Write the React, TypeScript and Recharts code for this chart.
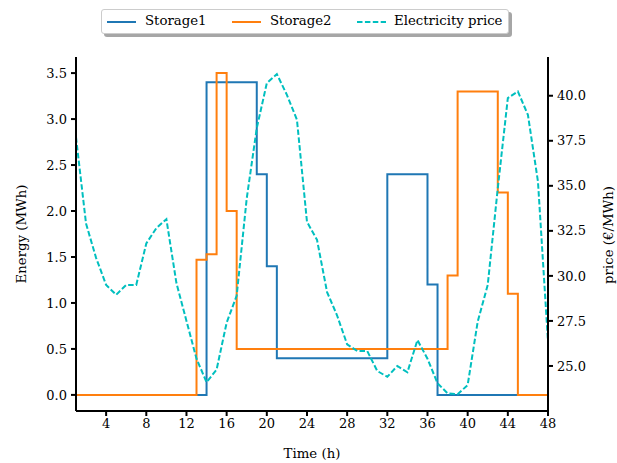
import React from 'react';
import { ComposedChart, Line, XAxis, YAxis } from 'recharts';

const hours = [
  1, 2, 3, 4, 5, 6, 7, 8, 9, 10, 11, 12, 13, 14, 15, 16, 17, 18, 19, 20, 21, 22, 23, 24,
  25, 26, 27, 28, 29, 30, 31, 32, 33, 34, 35, 36, 37, 38, 39, 40, 41, 42, 43, 44, 45, 46, 47, 48,
];

const storage1 = [
  0, 0, 0, 0, 0, 0, 0, 0, 0, 0, 0, 0, 0, 3.4, 3.4, 3.4, 3.4, 3.4, 2.4, 1.4, 0.4, 0.4, 0.4, 0.4,
  0.4, 0.4, 0.4, 0.4, 0.4, 0.4, 0.4, 2.4, 2.4, 2.4, 2.4, 1.2, 0, 0, 0, 0, 0, 0, 0, 0, 0, 0, 0, 0,
];

const storage2 = [
  0, 0, 0, 0, 0, 0, 0, 0, 0, 0, 0, 0, 1.47, 1.53, 3.5, 2.0, 0.5, 0.5, 0.5, 0.5, 0.5, 0.5, 0.5, 0.5,
  0.5, 0.5, 0.5, 0.5, 0.5, 0.5, 0.5, 0.5, 0.5, 0.5, 0.5, 0.5, 0.5, 1.3, 3.3, 3.3, 3.3, 3.3, 2.2, 1.1, 0, 0, 0, 0,
];

const price = [
  37.7, 32.9, 31.0, 29.5, 28.95, 29.5, 29.5, 31.8, 32.65, 33.15, 29.6, 27.5, 25.4, 24.1, 24.8, 27.4,
  28.9, 34.3, 38.2, 40.7, 41.2, 40.05, 38.67, 33.0, 32.0, 29.1, 27.8, 26.2, 25.83, 25.83, 24.72, 24.4,
  25.0, 24.65, 26.44, 25.4, 24.04, 23.48, 23.43, 23.94, 27.46, 29.5, 34.87, 39.87, 40.24, 38.94, 35.24, 26.35,
];

const xTicks = [4, 8, 12, 16, 20, 24, 28, 32, 36, 40, 44, 48];
const energyTicks = [0, 0.5, 1.0, 1.5, 2.0, 2.5, 3.0, 3.5];
const priceTicks = [25, 27.5, 30, 32.5, 35, 37.5, 40];

const data = hours.map((h, i) => ({
  h,
  storage1: storage1[i],
  storage2: storage2[i],
  price: price[i],
}));

const FONT = 'DejaVu Serif, "Liberation Serif", serif';
const BLUE = '#1f77b4';
const ORANGE = '#ff7f0e';
const CYAN = '#00bfbf';

const tickStyle = { fill: '#000', fontFamily: FONT, fontSize: 13 };
const axisStroke = { stroke: '#000', strokeWidth: 2 };

const legendItems = [
  { name: 'Storage1', color: BLUE, dash: undefined as string | undefined, left: 5, textLeft: 43 },
  { name: 'Storage2', color: ORANGE, dash: undefined as string | undefined, left: 130, textLeft: 168 },
  { name: 'Electricity price', color: CYAN, dash: '5.5 2.4', left: 255, textLeft: 292 },
];

function ChartLegend() {
  return (
    <div
      style={{
        position: 'absolute',
        left: 101,
        top: 9,
        width: 406,
        height: 23,
        background: '#fff',
        border: '1px solid #ccc',
        borderRadius: 3,
        boxShadow: '3px 3px 0 rgba(0,0,0,0.35)',
        fontFamily: FONT,
        fontSize: 13.3,
      }}
    >
      {legendItems.map((it) => (
        <React.Fragment key={it.name}>
          <svg style={{ position: 'absolute', left: it.left, top: 10 }} width={29} height={4}>
            <line x1={0} y1={2} x2={29} y2={2} stroke={it.color} strokeWidth={2} strokeDasharray={it.dash} />
          </svg>
          <span style={{ position: 'absolute', left: it.textLeft, top: 3, whiteSpace: 'nowrap' }}>{it.name}</span>
        </React.Fragment>
      ))}
    </div>
  );
}

const labelBase: React.CSSProperties = {
  position: 'absolute',
  fontFamily: FONT,
  fontSize: 13.3,
  whiteSpace: 'nowrap',
  color: '#000',
};

export default function App() {
  return (
    <div
      style={{
        position: 'absolute',
        left: 0,
        top: 0,
        width: 617,
        height: 463,
        overflow: 'hidden',
        background: '#fff',
      }}
    >
      <ComposedChart
        width={617}
        height={463}
        data={data}
        margin={{ top: 57, right: 19, bottom: 22, left: 16 }}
      >
        <XAxis
          dataKey="h"
          type="number"
          domain={[1, 48]}
          ticks={xTicks}
          allowDataOverflow
          height={30}
          tickSize={5}
          tickMargin={3}
          tick={tickStyle}
          tickLine={axisStroke}
          axisLine={axisStroke}
        />
        <XAxis
          xAxisId="top"
          orientation="top"
          type="number"
          domain={[1, 48]}
          height={0}
          tick={false}
          tickLine={false}
          axisLine={axisStroke}
        />
        <YAxis
          yAxisId="left"
          width={60}
          domain={[-0.175, 3.675]}
          ticks={energyTicks}
          allowDataOverflow
          tickFormatter={(v: number) => v.toFixed(1)}
          tickSize={5}
          tickMargin={4}
          tick={tickStyle}
          tickLine={axisStroke}
          axisLine={axisStroke}
        />
        <YAxis
          yAxisId="right"
          orientation="right"
          width={50}
          domain={[22.5, 42.15]}
          ticks={priceTicks}
          allowDataOverflow
          tickFormatter={(v: number) => v.toFixed(1)}
          tickSize={5}
          tickMargin={4}
          tick={tickStyle}
          tickLine={axisStroke}
          axisLine={axisStroke}
        />
        <Line
          yAxisId="left"
          dataKey="storage1"
          type="stepAfter"
          stroke={BLUE}
          strokeWidth={2}
          dot={false}
          activeDot={false}
          isAnimationActive={false}
        />
        <Line
          yAxisId="left"
          dataKey="storage2"
          type="stepAfter"
          stroke={ORANGE}
          strokeWidth={2}
          dot={false}
          activeDot={false}
          isAnimationActive={false}
        />
        <Line
          yAxisId="right"
          dataKey="price"
          type="linear"
          stroke={CYAN}
          strokeWidth={2}
          strokeDasharray="5.5 2.4"
          dot={false}
          activeDot={false}
          isAnimationActive={false}
        />
      </ComposedChart>
      <ChartLegend />
      <div style={{ ...labelBase, left: 312, top: 453, transform: 'translate(-50%, -50%)' }}>Time (h)</div>
      <div style={{ ...labelBase, left: 21, top: 234, transform: 'translate(-50%, -50%) rotate(-90deg)' }}>
        Energy (MWh)
      </div>
      <div style={{ ...labelBase, left: 608, top: 235, transform: 'translate(-50%, -50%) rotate(-90deg)' }}>
        price (€/MWh)
      </div>
    </div>
  );
}
